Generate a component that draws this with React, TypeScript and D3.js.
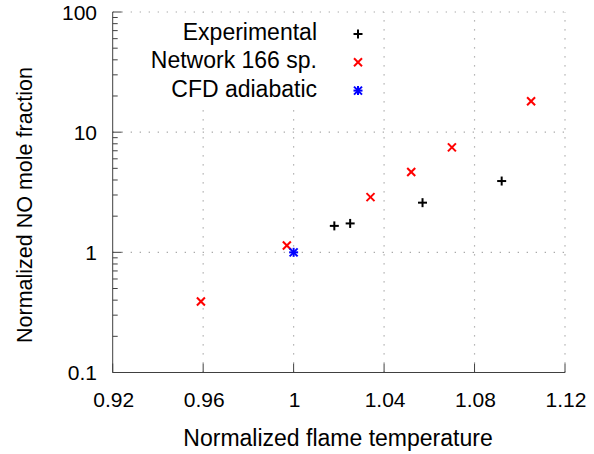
import React from "react";
import * as d3 from "d3";

const xTicks = [0.92, 0.96, 1, 1.04, 1.08, 1.12];
const yTicks = [0.1, 1, 10, 100];
const xTickLabels = ["0.92", "0.96", "1", "1.04", "1.08", "1.12"];
const yTickLabels = ["0.1", "1", "10", "100"];

const expX = [1.018, 1.025, 1.057, 1.092];
const expY = [1.66, 1.74, 2.59, 3.92];
const netX = [0.959, 0.997, 1.034, 1.052, 1.07, 1.105];
const netY = [0.39, 1.14, 2.88, 4.66, 7.47, 18.1];
const cfdX = [1.0];
const cfdY = [1.0];

const legendLabels = ["Experimental", "Network 166 sp.", "CFD adiabatic"];

const W = 594, H = 454;
const L = 112.7, R = 565, T = 12, B = 372.5;
const FONT = "'Liberation Sans', Arial, sans-serif";

function Plus({ x, y, color, s = 4.5 }: any) {
  return (
    <g stroke={color} strokeWidth={2}>
      <line x1={x - s} y1={y} x2={x + s} y2={y} />
      <line x1={x} y1={y - s} x2={x} y2={y + s} />
    </g>
  );
}
function Cross({ x, y, color, s = 4 }: any) {
  return (
    <g stroke={color} strokeWidth={2}>
      <line x1={x - s} y1={y - s} x2={x + s} y2={y + s} />
      <line x1={x - s} y1={y + s} x2={x + s} y2={y - s} />
    </g>
  );
}
function Star({ x, y, color }: any) {
  return (
    <g>
      <Plus x={x} y={y} color={color} s={4.5} />
      <Cross x={x} y={y} color={color} s={4} />
    </g>
  );
}

export default function App() {
  const xs = d3.scaleLinear().domain([0.92, 1.12]).range([L, R]);
  const ys = d3.scaleLog().domain([0.1, 100]).range([B, T]);
  const minor: number[] = [];
  [0.1, 1, 10].forEach((d) => {
    for (let k = 2; k <= 9; k++) minor.push(d * k);
  });
  const gridColor = "#a0a0a0";
  const axisColor = "#404040";
  const keyX = 317, keySym = 358, keyY0 = 40, keyDy = 28.3;

  return (
    <svg width={W} height={H} style={{ position: "absolute", left: 0, top: 0, background: "#fff" }} fontFamily={FONT}>
      {/* grid */}
      {xTicks.slice(1).map((t, i) => (
        <line key={"gx" + i} x1={xs(t)} x2={xs(t)} y1={B} y2={T} stroke={gridColor} strokeWidth={1.2} strokeDasharray="1.2,7.8" />
      ))}
      {yTicks.slice(1).map((t, i) => (
        <line key={"gy" + i} x1={L} x2={R} y1={ys(t)} y2={ys(t)} stroke={gridColor} strokeWidth={1.2} strokeDasharray="1.2,7.8" />
      ))}
      {/* key box (opaque) */}
      <rect x={145} y={16} width={229} height={87} fill="#fff" />
      {/* ticks */}
      {xTicks.map((t, i) => (
        <line key={"xt" + i} x1={xs(t)} x2={xs(t)} y1={B} y2={B - 9} stroke={axisColor} strokeWidth={1} />
      ))}
      {yTicks.map((t, i) => (
        <line key={"yt" + i} x1={L} x2={L + 9} y1={ys(t)} y2={ys(t)} stroke={axisColor} strokeWidth={1} />
      ))}
      {minor.map((t, i) => (
        <line key={"ym" + i} x1={L} x2={L + 5} y1={ys(t)} y2={ys(t)} stroke={axisColor} strokeWidth={1} />
      ))}
      {/* axes */}
      <path d={`M${L},${T}V${B}H${R}`} fill="none" stroke={axisColor} strokeWidth={1} />
      {/* tick labels */}
      {xTicks.map((t, i) => (
        <text key={"xl" + i} x={xs(t) + 1} y={407} fontSize={21} textAnchor="middle" fill="#000">{xTickLabels[i]}</text>
      ))}
      {yTicks.map((t, i) => (
        <text key={"yl" + i} x={97} y={ys(t) + 7.5} fontSize={21} textAnchor="end" fill="#000">{yTickLabels[i]}</text>
      ))}
      {/* axis titles */}
      <text x={338} y={446} fontSize={23} textAnchor="middle" fill="#000">Normalized flame temperature</text>
      <text transform={`translate(32,205) rotate(-90)`} fontSize={21.5} textAnchor="middle" fill="#000">Normalized NO mole fraction</text>
      {/* legend */}
      {legendLabels.map((s, i) => (
        <text key={"lg" + i} x={keyX} y={keyY0 + i * keyDy} fontSize={23} textAnchor="end" fill="#000">{s}</text>
      ))}
      <Plus x={keySym} y={keyY0 - 6 + 0 * keyDy} color="#000" />
      <Cross x={keySym} y={keyY0 - 6 + 1 * keyDy} color="#ff0000" />
      <Star x={keySym} y={keyY0 - 6 + 2 * keyDy} color="#0000ff" />
      {/* data */}
      {netX.map((v, i) => (
        <Cross key={"n" + i} x={xs(v)} y={ys(netY[i])} color="#ff0000" />
      ))}
      {expX.map((v, i) => (
        <Plus key={"e" + i} x={xs(v)} y={ys(expY[i])} color="#000" />
      ))}
      {cfdX.map((v, i) => (
        <Star key={"c" + i} x={xs(v)} y={ys(cfdY[i])} color="#0000ff" />
      ))}
    </svg>
  );
}
